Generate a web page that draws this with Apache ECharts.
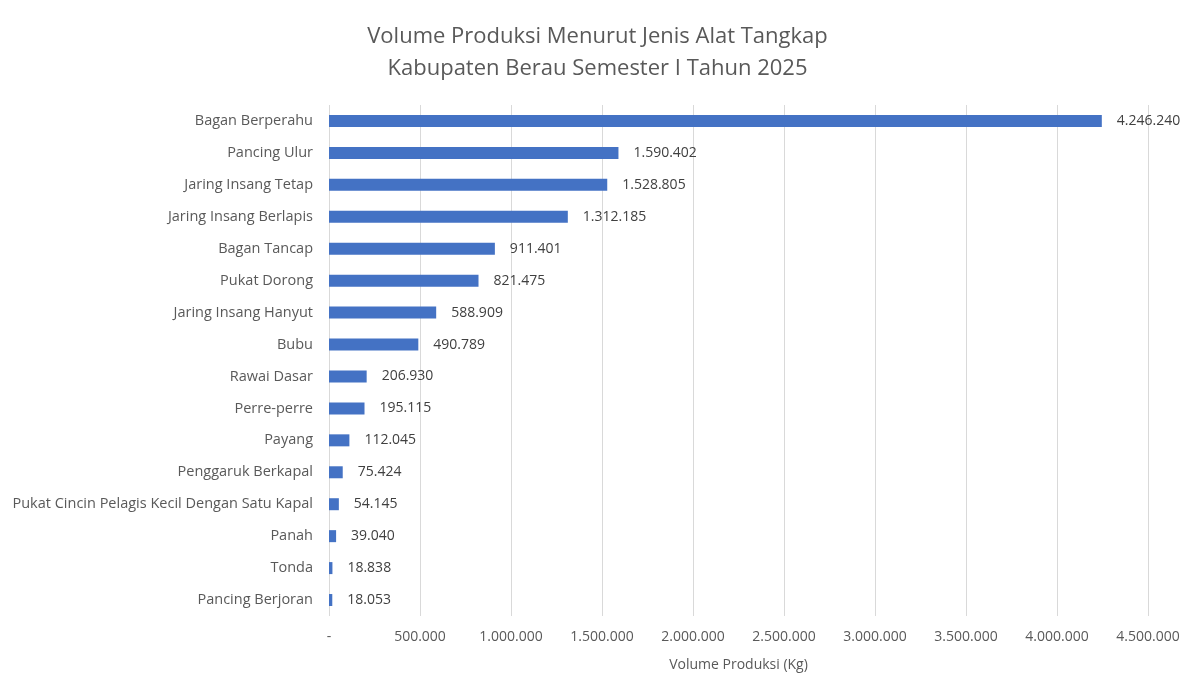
<!DOCTYPE html>
<html>
<head>
<meta charset="utf-8">
<script src="https://cdn.jsdelivr.net/npm/echarts@6/dist/echarts.min.js"></script>
<style>
  html, body { margin: 0; padding: 0; background: #fff; }
  #chart { width: 1195px; height: 691px; }
</style>
</head>
<body>
<div id="chart"></div>
<script>
var categories = [
  'Bagan Berperahu', 'Pancing Ulur', 'Jaring Insang Tetap', 'Jaring Insang Berlapis',
  'Bagan Tancap', 'Pukat Dorong', 'Jaring Insang Hanyut', 'Bubu', 'Rawai Dasar',
  'Perre-perre', 'Payang', 'Penggaruk Berkapal', 'Pukat Cincin Pelagis Kecil Dengan Satu Kapal',
  'Panah', 'Tonda', 'Pancing Berjoran'
];
var volumes = [
  4246240, 1590402, 1528805, 1312185, 911401, 821475, 588909, 490789, 206930,
  195115, 112045, 75424, 54145, 39040, 18838, 18053
];

function fmt(v) {
  if (v === 0) return '-';
  return String(v).replace(/\B(?=(\d{3})+(?!\d))/g, '.');
}

var font = 'Open Sans';
var chart = echarts.init(document.getElementById('chart'));

chart.setOption({
  animation: false,
  title: {
    text: 'Volume Produksi Menurut Jenis Alat Tangkap\nKabupaten Berau Semester I Tahun 2025',
    left: 'center',
    top: 16,
    textStyle: { fontFamily: font, fontSize: 22, fontWeight: 'normal', color: '#595959', lineHeight: 32 }
  },
  grid: { left: 329, right: 47, top: 105, bottom: 75, containLabel: false },
  xAxis: {
    type: 'value',
    min: 0,
    max: 4500000,
    interval: 500000,
    name: 'Volume Produksi (Kg)',
    nameLocation: 'middle',
    nameGap: 42,
    nameTextStyle: { fontFamily: font, fontSize: 14, color: '#595959' },
    axisLine: { show: false },
    axisTick: { show: false },
    axisLabel: { fontFamily: font, fontSize: 14, color: '#595959', margin: 14, formatter: fmt },
    splitLine: { lineStyle: { color: '#d9d9d9', width: 1 } }
  },
  yAxis: {
    type: 'category',
    data: categories,
    inverse: true,
    axisLine: { show: false },
    axisTick: { show: false },
    axisLabel: { fontFamily: font, fontSize: 14.5, color: '#595959', margin: 16 }
  },
  series: [{
    type: 'bar',
    data: volumes,
    barWidth: 12,
    itemStyle: { color: '#4472C4' },
    label: {
      show: true,
      position: 'right',
      distance: 15,
      fontFamily: font,
      fontSize: 14,
      color: '#404040',
      formatter: function (p) { return fmt(p.value); }
    }
  }]
});
</script>
</body>
</html>
